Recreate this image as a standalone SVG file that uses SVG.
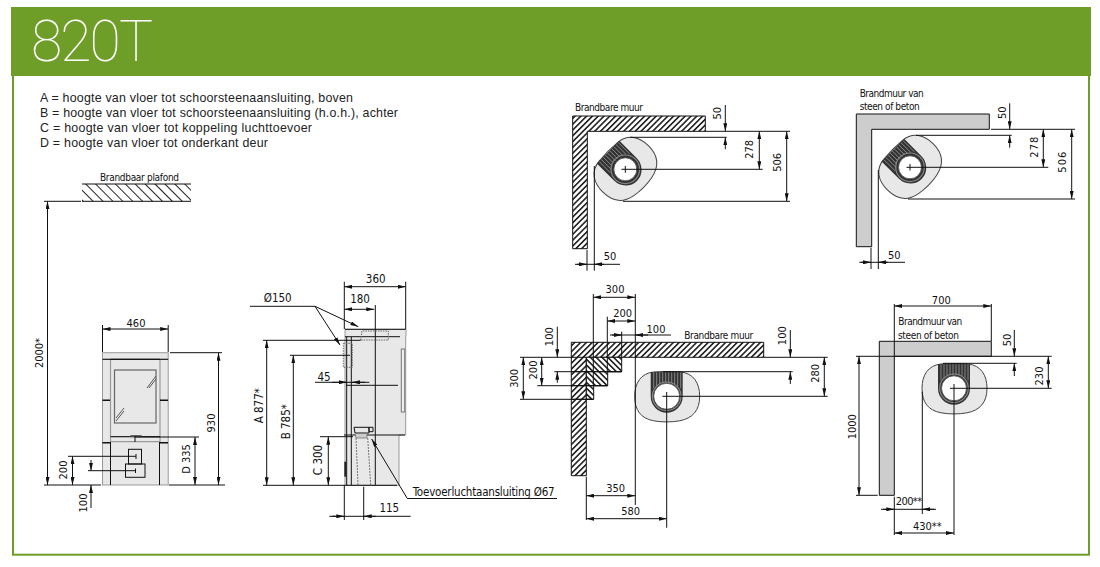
<svg xmlns="http://www.w3.org/2000/svg" width="1100" height="567" viewBox="0 0 1100 567">
<style>
.l{fill:none;stroke:#111;stroke-width:1}
.a{fill:none;stroke:#111;stroke-width:1;marker-start:url(#ar);marker-end:url(#ar)}
.e{fill:none;stroke:#111;stroke-width:1;marker-end:url(#ar)}
.g{fill:none;stroke:#999;stroke-width:1}
.o{fill:none;stroke:#666;stroke-width:1;stroke-dasharray:1.5 1}
text{font-family:"DejaVu Sans Condensed","DejaVu Sans",sans-serif;fill:#111}
.t{font-size:11px;text-anchor:middle}
.s{font-size:10px}
.k{font-family:"Liberation Sans",Arial,sans-serif;font-size:12.4px;fill:#222}
</style>
<defs>
<marker id="ar" markerUnits="userSpaceOnUse" viewBox="0 0 8 4" refX="8" refY="2" markerWidth="8" markerHeight="4" orient="auto-start-reverse"><path d="M0,0L8,2L0,4Z" fill="#111"/></marker>
<pattern id="hw" patternUnits="userSpaceOnUse" width="4.1" height="4.1" patternTransform="rotate(45)"><rect width="4.1" height="4.1" fill="#fff"/><rect width="1.6" height="4.1" fill="#222"/></pattern>
<pattern id="hb" patternUnits="userSpaceOnUse" width="4.1" height="4.1" patternTransform="rotate(-45)"><rect width="4.1" height="4.1" fill="#fff"/><rect width="1.6" height="4.1" fill="#222"/></pattern>
<pattern id="hc" patternUnits="userSpaceOnUse" width="7" height="7" patternTransform="rotate(-45)"><rect width="7" height="7" fill="#fff"/><rect width="1" height="7" fill="#222"/></pattern>
<g id="stove">
<path d="M-13,-24.3C-5,-25 6,-25 14,-24.3C27,-23 33,-13 33,0C33,14 26,22 13,24.5C5,26 -5,26 -13,24.5C-26,22 -32,14 -32,0C-32,-13 -26,-23 -13,-24.3Z" fill="#e8e8e8" stroke="#444" stroke-width="1"/>
<path d="M-16,-24.3H16V0A16,16.5 0 0 1 -16,0Z" fill="#333"/>
<path d="M-13,-24V-8M-10,-24V-10M-7,-24V-12M-4,-24V-13M-1,-24V-13M2,-24V-13M5,-24V-13M8,-24V-12M11,-24V-10M14,-24V-8" stroke="#aaa" stroke-width=".7" fill="none"/>
<circle r="14.3" fill="none" stroke="#888" stroke-width="1.2"/>
</g>
</defs>
<rect width="1100" height="567" fill="#fff"/>
<g id="frame">
<rect x="13" y="40" width="1076" height="514.700" fill="#fff" stroke="#6e9e28" stroke-width="2"/>
<rect x="11" y="7" width="1080" height="69" fill="#6e9e28"/>
<text x="31" y="61" textLength="122" style="font-family:Roboto,'Liberation Sans',sans-serif;font-size:57px;font-weight:100;fill:#fff">820T</text>
</g>
<g id="legend">
<text class="k" x="40" y="102" textLength="313">A = hoogte van vloer tot schoorsteenaansluiting, boven</text>
<text class="k" x="40" y="117" textLength="358">B = hoogte van vloer tot schoorsteenaansluiting (h.o.h.), achter</text>
<text class="k" x="40" y="132" textLength="272">C = hoogte van vloer tot koppeling luchttoevoer</text>
<text class="k" x="40" y="147" textLength="228">D = hoogte van vloer tot onderkant deur</text>
</g>
<g id="front-view">
<rect x="82" y="184" width="109" height="17.300" fill="url(#hc)"/>
<path class="l" d="M82,184H191M82,201.300H191"/>
<text class="s" x="100" y="181" textLength="79">Brandbaar plafond</text>
<rect x="102.500" y="352.700" width="65.700" height="132.300" fill="#e8e8e8" stroke="#999"/>
<path class="g" d="M102.500,359.300H168.200M110.500,359.300V442M160,359.300V442M110.500,436.700H160M110.500,441.700H160" style="stroke-width:1.200"/>
<path class="l" d="M102.500,359.300H168.200M110.500,359.300H160M110.500,436.700H160M110.500,442V485M159.500,442V485"/>
<path d="M102.500,400.300H110M160,400.300H168M102.500,442.700H110M160,442.700H168" stroke="#111" stroke-width="1.500"/>
<rect x="114.500" y="370" width="41.500" height="53" fill="#e8e8e8" stroke="#666" stroke-width="1.200"/>
<path d="M147,388L156,376M149,388L156,379M116,418L124,408M116,421L124,411" stroke="#555" stroke-width="1" fill="none"/>
<path d="M129,436.500L131,435H141L143,436.500Z" fill="#666"/>
<path class="l" d="M135,436V442"/>
<rect class="l" x="128.500" y="449.300" width="13" height="14.700"/>
<rect class="l" x="125.500" y="464" width="19.500" height="13.300"/>
<path class="l" d="M68,456.300H136M136,454V459M88,470.700H136M135.500,468.500V473"/>
<path class="l" d="M44,201.300H81M44,485H101M169,485H225M170,352.700H222M135,437H199M102.500,325V352M168.200,325V352"/>
<path class="a" d="M47.500,201.300V485"/><text class="t" transform="translate(43 353) rotate(-90)">2000*</text>
<path class="a" d="M72.500,456.300V485"/><text class="t" transform="translate(67 470) rotate(-90)">200</text>
<path class="e" d="M91,460V470.700"/><path class="e" d="M91,508V485"/><text class="t" transform="translate(87 503) rotate(-90)">100</text>
<path class="a" d="M195,437V485"/><text class="t" transform="translate(190 459) rotate(-90)">D 335</text>
<path class="a" d="M218.500,352.700V485"/><text class="t" transform="translate(215 423) rotate(-90)">930</text>
<path class="a" d="M102.500,329H168.200"/><text class="t" x="136" y="326.500">460</text>
</g>
<g id="side-view">
<path d="M345,329.300H406V336.700H405.700V435H399V485.300H345Z" fill="#e8e8e8" stroke="#999"/>
<rect x="401.300" y="349" width="3.400" height="63" fill="#eee" stroke="#777"/>
<path class="l" d="M345,329.300H405.700M345,336.700H400M346,385.300H398M344,435H405M346.700,337V485M351.300,337V485M375.300,305V485"/>
<path d="M345.300,461.700V476.700" stroke="#222" stroke-width="2"/>
<path class="o" d="M360.700,340L362,331H388.300V340ZM343.300,343.300H352.300V367.300H343.300Z"/>
<path class="l" d="M354,427.300H369V433H355ZM369,427.300H373V431.700H369Z"/>
<path d="M355,433.500H367V438H356Z" fill="#ccc" stroke="#666" stroke-width=".7"/>
<path d="M356,438L358,485M367.700,438L370.700,485" stroke="#777" stroke-width="1" stroke-dasharray="2 1" fill="none"/>
<path class="l" d="M263,485.300H397M344.300,281.700V329M405.700,281.700V329M263,340.300H360.700M290,355.300H350M320,436.700H353M344.300,485V520M363.700,486.700V520"/>
<path class="a" d="M344.300,286.700H405.700"/><text class="t" x="375.700" y="283.300" style="font-size:11.500px">360</text>
<path class="a" d="M344.300,309.300H374.300"/><text class="t" x="360" y="303.300" style="font-size:11.500px">180</text>
<path class="l" d="M250,306.300H315"/><path class="e" d="M315,306.300L358.300,326.700"/><path class="e" d="M315,306.300L340,345"/><text class="t" x="277.700" y="302.300" style="font-size:11.500px">Ø150</text>
<path class="a" d="M266.700,340.300V485.300"/><text class="t" transform="translate(262.500 405.700) rotate(-90)" style="font-size:11.500px">A 877*</text>
<path class="a" d="M293.300,355.300V485.300"/><text class="t" transform="translate(289.500 421.700) rotate(-90)" style="font-size:11.500px">B 785*</text>
<path class="a" d="M328.300,436.700V485.300"/><text class="t" transform="translate(321.500 460) rotate(-90)" style="font-size:11.500px">C 300</text>
<path class="l" d="M315,382.300H369.300"/><path class="e" d="M332,382.300H346.700"/><path class="e" d="M365,382.300H352"/><text class="t" x="324" y="380.500" style="font-size:11.500px">45</text>
<path class="l" d="M329.300,516.300H410.700"/><path class="e" d="M332,516.300H344.300"/><path class="e" d="M376,516.300H363.700"/><text class="t" x="389.300" y="511.700" style="font-size:11.500px">115</text>
<path class="e" d="M407.300,498.500L371.700,439"/><path class="l" d="M407.300,498.500H557"/>
<text x="412.700" y="496" textLength="142" style="font-size:11.500px">Toevoerluchtaansluiting Ø67</text>
</g>
<g id="plan-top-left">
<path d="M572.700,116H705.300V131.300H587.300V248.700H572.700Z" fill="url(#hw)" stroke="#111"/>
<use href="#stove" transform="translate(625.300 169.300) rotate(-45)"/>
<circle cx="625.300" cy="169.300" r="11.500" fill="#fff" stroke="#444" stroke-width=".8"/>
<path class="l" d="M621.500,169.300H762.700M625.300,166V172.700M630,137.300H726.700M623,201.300H790M705,131.300H790M587,250V270.700M594.300,166V270.700"/>
<path class="e" d="M725.300,105V131.300"/><path class="e" d="M725.300,149.300V137.300"/><text class="t" transform="translate(721 113.300) rotate(-90)">50</text>
<path class="a" d="M759.300,131.300V169.300"/><text class="t" transform="translate(753 149.300) rotate(-90)">278</text>
<path class="a" d="M786.700,131.300V201.300"/><text class="t" transform="translate(780.700 162.300) rotate(-90)">506</text>
<path class="l" d="M575,264.300H620"/><path class="e" d="M577,264.300H587"/><path class="e" d="M604,264.300H594.300"/><text class="t" x="610" y="260">50</text>
<text class="s" x="575" y="111.300" textLength="68">Brandbare muur</text>
</g>
<g id="plan-top-right">
<path d="M856.300,114H989.300V129.300H871.700V246.700H856.300Z" fill="#cdcdcd" stroke="#111"/>
<use href="#stove" transform="translate(910 167.300) rotate(-45)"/>
<circle cx="910" cy="167.300" r="11.500" fill="#fff" stroke="#444" stroke-width=".8"/>
<path class="l" d="M906.500,167.300H1048.300M910,164V170.500M916,135.300H1011.700M908,199H1075M991,129.300H1075M871,247.700V269M878.300,170V269"/>
<path class="e" d="M1009.700,103.300V129.300"/><path class="e" d="M1009.700,147.700V135.300"/><text class="t" transform="translate(1005.700 112.700) rotate(-90)">50</text>
<path class="a" d="M1043.300,129.300V167.300"/><text class="t" transform="translate(1038 146.700) rotate(-90)" style="letter-spacing:1px">278</text>
<path class="a" d="M1071.700,129.300V199"/><text class="t" transform="translate(1066 161.700) rotate(-90)" style="letter-spacing:1px">506</text>
<path class="l" d="M859.300,262.300H905"/><path class="e" d="M861,262.300H871"/><path class="e" d="M888,262.300H878.300"/><text class="t" x="894.300" y="259">50</text>
<text class="s" x="859.700" y="96.700" textLength="64">Brandmuur van</text>
<text class="s" x="859.700" y="110" textLength="60">steen of beton</text>
</g>
<g id="plan-bottom-left">
<path d="M571.300,342.300H763.700V357.300H586.300V475.700H571.300Z" fill="url(#hw)" stroke="#111"/>
<path d="M586.300,357.300H621.700V371.700H607.700V385.700H593.700V399.300H586.300Z" fill="url(#hb)" stroke="#111"/>
<use href="#stove" transform="translate(666.700 396.300)"/>
<circle cx="666.700" cy="396.300" r="13" fill="#fff" stroke="#444" stroke-width=".8"/>
<path class="l" d="M571.300,371.700H621.700M571.300,385.700H607.700M571.300,399.300H593.700M593.300,294V385.700M607.300,316.700V371.700M621.700,331.700V357.300"/>
<path class="l" d="M635.300,294V505M662.300,396.300H827.700M666.700,392V527.700M663,371.700H792.700M763.700,357.300H827.700M520,357.300H586M520,399.300H593M537.300,385.700H607M554.300,371.700H621M586.300,476.700V520"/>
<path class="a" d="M593.300,297.300H635.300"/><text class="t" x="615" y="293.300">300</text>
<path class="a" d="M607.300,321H635.300"/><text class="t" x="622.700" y="316.700">200</text>
<path class="l" d="M610,335H671"/><path class="e" d="M612,335H621.700"/><path class="e" d="M648,335H635.300"/><text class="t" x="656" y="333.300">100</text>
<text class="s" x="684.300" y="339" textLength="69">Brandbare muur</text>
<path class="e" d="M790.300,330V357.300"/><path class="e" d="M790.300,384V371.700"/><text class="t" transform="translate(786 335.700) rotate(-90)">100</text>
<path class="a" d="M824.300,357.300V396.300"/><text class="t" transform="translate(819.300 373.300) rotate(-90)">280</text>
<path class="a" d="M523.300,357.300V399.300"/><text class="t" transform="translate(518.300 378.300) rotate(-90)">300</text>
<path class="a" d="M541.700,357.300V385.700"/><text class="t" transform="translate(536.700 370) rotate(-90)">200</text>
<path class="e" d="M557.300,326.700V357.300"/><path class="e" d="M557.300,382.700V371.700"/><text class="t" transform="translate(553.300 336.700) rotate(-90)">100</text>
<path class="a" d="M586.300,495.700H635.300"/><text class="t" x="615.700" y="492.300">350</text>
<path class="a" d="M586.300,518.700H666.700"/><text class="t" x="630.700" y="515.300">580</text>
</g>
<g id="plan-bottom-right">
<path d="M879.300,341.300H991.300V356.300H894.300V495.300H879.300Z" fill="#cdcdcd" stroke="#111"/>
<use href="#stove" transform="translate(954 388.300)"/>
<circle cx="954" cy="388.300" r="12.500" fill="#fff" stroke="#444" stroke-width=".8"/>
<path class="l" d="M894.300,304V356.300M894.300,496.700V535M991.300,304V341M856,356.300H1051.700M856,495.300H877.700M943,363.300H1016.700M950,388.300H1051.700M954,384V535M922.300,391.700V514"/>
<path class="a" d="M894.300,306H991.300"/><text class="t" x="941.300" y="304">700</text>
<text class="s" x="898.300" y="325" textLength="64">Brandmuur van</text>
<text class="s" x="898" y="338.700" textLength="61">steen of beton</text>
<path class="a" d="M859,356.300V495.300"/><text class="t" transform="translate(855.700 426.700) rotate(-90)">1000</text>
<path class="e" d="M1014.300,330V356.300"/><path class="e" d="M1014.300,376V363.300"/><text class="t" transform="translate(1010.700 340) rotate(-90)">50</text>
<path class="a" d="M1048.300,356.300V388.300"/><text class="t" transform="translate(1042.700 376) rotate(-90)">230</text>
<path class="l" d="M881,509.300H936"/><path class="e" d="M883,509.300H894.300"/><path class="e" d="M934,509.300H922.300"/><text x="895.700" y="504.700" textLength="26.500" style="font-size:11px">200**</text>
<path class="a" d="M894.300,533H954"/><text class="t" x="927.300" y="530">430**</text>
</g>
</svg>
